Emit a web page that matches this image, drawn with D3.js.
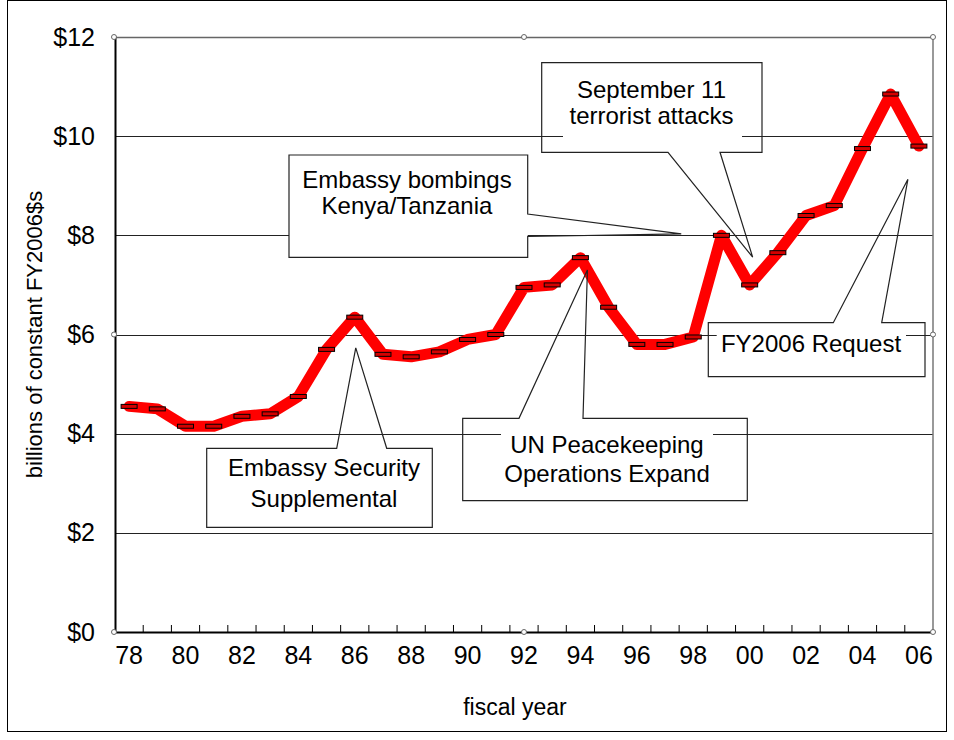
<!DOCTYPE html>
<html><head><meta charset="utf-8">
<script src="https://cdn.jsdelivr.net/npm/d3@7"></script>
<style>body{margin:0;background:#fff}text{font-family:"Liberation Sans",Arial,sans-serif;fill:#000}</style>
</head><body>
<svg id="chart" width="954" height="740"></svg>
<script>
const years = ["78","79","80","81","82","83","84","85","86","87","88","89","90","91","92","93","94","95","96","97","98","99","00","01","02","03","04","05","06"];
const values = [4.55,4.5,4.15,4.15,4.35,4.4,4.75,5.7,6.35,5.6,5.55,5.65,5.9,6.0,6.95,7.0,7.55,6.55,5.8,5.8,5.95,8.0,7.0,7.65,8.4,8.6,9.75,10.85,9.8];
const yTicks = [0,2,4,6,8,10,12];
const xTickLabels = ["78","80","82","84","86","88","90","92","94","96","98","00","02","04","06"];
const yTitle = "billions of constant FY2006$s";
const xTitle = "fiscal year";

(function () {
const svg = d3.select("#chart");
const pLeft = 115, pRight = 933, pTop = 37, pBottom = 632;
const x = d3.scaleBand().domain(years).range([pLeft, pRight]);
const y = d3.scaleLinear().domain([0, 12]).range([pBottom, pTop]);
const font = '"Liberation Sans",Arial,sans-serif';

// outer frame
svg.append("rect").attr("x", 7.5).attr("y", 0.5).attr("width", 939).attr("height", 731)
  .attr("fill", "none").attr("stroke", "#000").attr("stroke-width", 1);

// gridlines
svg.append("g").selectAll("line").data(yTicks.filter(d => d > 0)).join("line")
  .attr("x1", pLeft).attr("x2", pRight)
  .attr("y1", d => Math.round(y(d)) + 0.5).attr("y2", d => Math.round(y(d)) + 0.5)
  .attr("stroke", d => d === 12 ? "#666" : "#222").attr("stroke-width", d => d === 12 ? 1.5 : 1);
// right border
svg.append("line").attr("x1", pRight).attr("x2", pRight).attr("y1", pTop).attr("y2", pBottom)
  .attr("stroke", "#777").attr("stroke-width", 1.5);

// y axis
const yAxis = d3.axisLeft(y).tickValues(yTicks).tickSize(0).tickPadding(20).tickFormat(d => "$" + d);
const gy = svg.append("g").attr("transform", `translate(${pLeft},0)`).call(yAxis);
gy.select(".domain").attr("stroke", "#000").attr("stroke-width", 2);
gy.selectAll("text").attr("font-size", 25).attr("font-family", font).attr("fill", "#000");

// x axis
const xAxis = d3.axisBottom(x).tickValues(xTickLabels).tickSize(0).tickPadding(14);
const gx = svg.append("g").attr("transform", `translate(0,${pBottom})`).call(xAxis);
gx.select(".domain").attr("stroke", "#000").attr("stroke-width", 2);
gx.selectAll("text").attr("font-size", 25).attr("font-family", font).attr("fill", "#000");
// inner ticks at category boundaries
svg.append("g").selectAll("line").data(years.slice(1)).join("line")
  .attr("x1", d => x(d)).attr("x2", d => x(d)).attr("y1", pBottom).attr("y2", pBottom - 7)
  .attr("stroke", "#000").attr("stroke-width", 1);

// titles
svg.append("text").attr("transform", `translate(42,${(pTop + pBottom) / 2}) rotate(-90)`)
  .attr("text-anchor", "middle").attr("font-size", 22).text(yTitle);
svg.append("text").attr("x", 515).attr("y", 715).attr("text-anchor", "middle").attr("font-size", 23).text(xTitle);

// data line
const line = d3.line().x((d, i) => x(years[i]) + x.bandwidth() / 2).y(d => y(d));
svg.append("path").datum(values).attr("d", line).attr("fill", "none")
  .attr("stroke", "#ff0000").attr("stroke-width", 11).attr("stroke-linejoin", "round").attr("stroke-linecap", "round");
svg.append("g").selectAll("rect").data(values).join("rect")
  .attr("x", (d, i) => x(years[i]) + x.bandwidth() / 2 - 8).attr("y", d => y(d) - 2)
  .attr("width", 16).attr("height", 4).attr("fill", "#d40000").attr("stroke", "#000").attr("stroke-width", 1);

// plot-area handles
const hx = [pLeft - 1, (pLeft + pRight) / 2, pRight], hy = [pTop, (pTop + pBottom) / 2, pBottom];
const handles = [];
hx.forEach((a, i) => hy.forEach((b, j) => { if (!(i === 1 && j === 1)) handles.push([a, b]); }));
svg.append("g").selectAll("circle").data(handles).join("circle")
  .attr("cx", d => d[0]).attr("cy", d => d[1]).attr("r", 2.5)
  .attr("fill", "#fff").attr("stroke", "#666").attr("stroke-width", 1);

// callouts
const bc = k => x(k) + x.bandwidth() / 2;
const callouts = [
  {lines: ["September 11", "terrorist attacks"], box: [541.7, 62.7, 762, 152.3], side: "bottom", gap: [668, 720],
   tip: [bc("00") + 3, y(7.56)], cover: [563, 72, 742, 142], tx: 651.5, ty: [98.3, 124.3], fillBox: false},
  {lines: ["Embassy bombings", "Kenya/Tanzania"], box: [289, 155, 527.7, 257.3], side: "right", gap: [214, 236.5],
   tip: [bc("98") - 12, y(8.03)], tx: 407, ty: [187.7, 214], fillBox: true},
  {lines: ["Embassy Security", "Supplemental"], box: [206.7, 448.3, 432.3, 527.3], side: "top", gap: [336.7, 386.7],
   tip: [bc("86") + 1, y(5.73)], tx: 324, ty: [475.7, 506.7], fillBox: true},
  {lines: ["UN Peacekeeping", "Operations Expand"], box: [462.7, 418.3, 747.3, 500.7], side: "top", gap: [519, 583],
   tip: [bc("94") + 7, y(7.3)], cover: [501, 426, 713, 494], tx: 607, ty: [453.3, 482.3], fillBox: false},
  {lines: ["FY2006 Request"], box: [708.3, 322.7, 925, 376.7], side: "top", gap: [833.3, 881.7],
   tip: [bc("06") - 11, y(9.13)], cover: [716.7, 329, 906, 370], tx: 811, ty: [351.7], fillBox: false}
];

callouts.forEach(c => {
  const [x0, y0, x1, y1] = c.box, [a, b] = c.gap, [tx, ty] = c.tip;
  let pts;
  if (c.side === "top") pts = [[x0, y0], [a, y0], [tx, ty], [b, y0], [x1, y0], [x1, y1], [x0, y1]];
  else if (c.side === "bottom") pts = [[x0, y0], [x1, y0], [x1, y1], [b, y1], [tx, ty], [a, y1], [x0, y1]];
  else pts = [[x0, y0], [x1, y0], [x1, a], [tx, ty], [x1, b], [x1, y1], [x0, y1]];
  const g = svg.append("g");
  if (c.fillBox) g.append("rect").attr("x", x0).attr("y", y0).attr("width", x1 - x0).attr("height", y1 - y0).attr("fill", "#fff");
  if (c.cover) g.append("rect").attr("x", c.cover[0]).attr("y", c.cover[1]).attr("width", c.cover[2] - c.cover[0])
    .attr("height", c.cover[3] - c.cover[1]).attr("fill", "#fff");
  g.append("path").attr("d", d3.line()(pts) + "Z").attr("fill", "none").attr("stroke", "#222").attr("stroke-width", 1.2);
  c.lines.forEach((t, i) => g.append("text").attr("x", c.tx).attr("y", c.ty[i]).attr("text-anchor", "middle")
    .attr("font-size", 24).text(t));
});
})();
</script>
</body></html>
